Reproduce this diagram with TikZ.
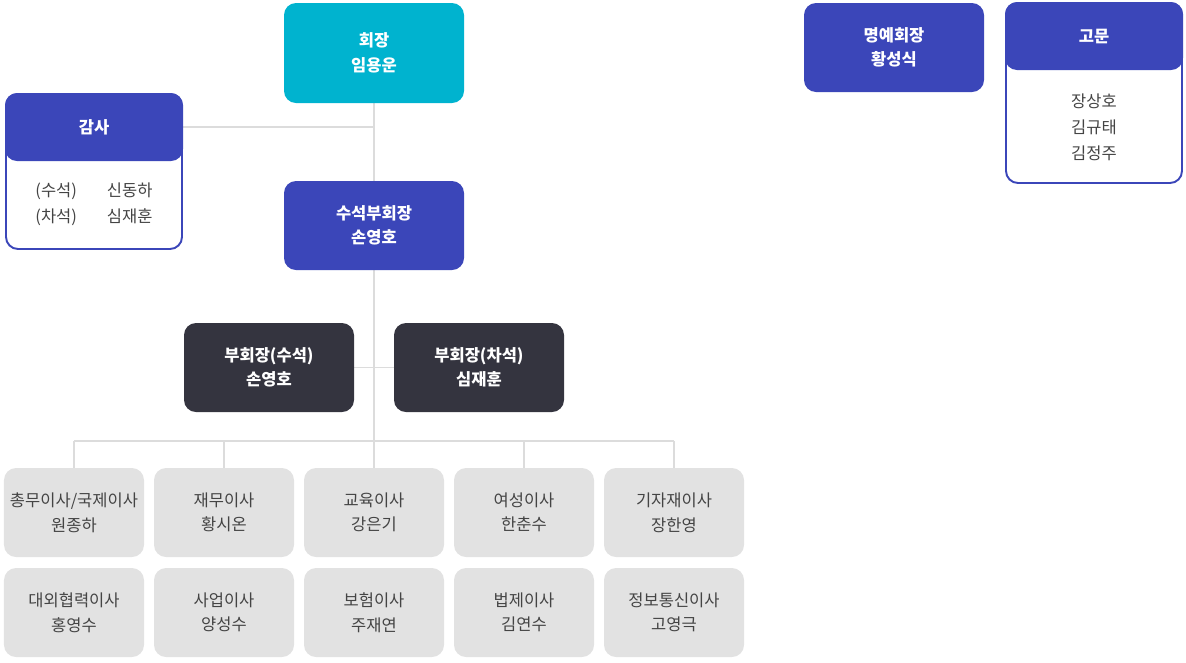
\documentclass[tikz,border=0pt]{standalone}
\usepackage{fontspec}
\setmainfont{Noto Sans CJK KR}
\usepackage{xcolor}
\usepackage{tikz}
\usetikzlibrary{positioning,calc,backgrounds}

\definecolor{chaircyan}{HTML}{00B3CF}
\definecolor{orgblue}{HTML}{3B46B9}
\definecolor{orgdark}{HTML}{34343F}
\definecolor{orggray}{HTML}{E2E2E2}
\definecolor{orgline}{HTML}{DCDCDC}
\definecolor{orgtext}{HTML}{444444}

\begin{document}
\begin{tikzpicture}[node distance=0.0cm,
    every node/.style={font=\fontsize{9.4}{14}\selectfont, align=center, outer sep=0pt},
    topbox/.style={rounded corners=0.24cm, minimum width=3.6cm, minimum height=1.78cm,
        text=white, font=\fontsize{9.4}{14}\selectfont\bfseries},
    vpbox/.style={topbox, fill=orgdark, minimum width=3.4cm},
    dirbox/.style={rounded corners=0.24cm, fill=orggray, text=orgtext,
        minimum width=2.8cm, minimum height=1.78cm},
    framebox/.style={draw=orgblue, line width=1.1pt, rounded corners=0.24cm, minimum width=3.52cm},
    headbox/.style={topbox, fill=orgblue, minimum width=3.56cm, minimum height=1.36cm, anchor=north},
    orglink/.style={draw=orgline, line width=0.6pt}]

  \useasboundingbox (0,0) rectangle (23.72,-13.24);

  %% ─── Chair and senior vice chair ───────────────────────────────────────
  \node[topbox, fill=chaircyan, minimum height=2.0cm] (chair)
      at (7.48,-1.06) {회장\\임용운};

  \node[topbox, fill=orgblue] (vchair)
      at (7.48,-4.51) {수석부회장\\손영호};

  %% ─── Audit box ──────────────────────────────────────────────────────────
  \node[framebox, minimum height=3.10cm] (audbox) at (1.88,-3.43) {};
  \node[headbox] (audhead) at ([yshift=0.02cm]audbox.north) {감사};
  \node[text=orgtext, font=\fontsize{9.4}{14.8}\selectfont] (audnames) at (1.88,-4.08)
      {\begin{tabular}{@{}l@{\hspace{0.6cm}}l@{}}(수석) & 신동하\\(차석) & 심재훈\end{tabular}};

  %% ─── Honorary chair and advisers ────────────────────────────────────────
  \node[topbox, fill=orgblue] (hon)
      at (17.88,-0.95) {명예회장\\황성식};

  \node[framebox, minimum height=3.60cm] (advbox) at (21.88,-1.86) {};
  \node[headbox] (advhead) at ([yshift=0.02cm]advbox.north) {고문};
  \node[text=orgtext, font=\fontsize{9.4}{14.8}\selectfont] (advnames) at (21.88,-2.54)
      {장상호\\김규태\\김정주};

  %% ─── Vice chairs ────────────────────────────────────────────────────────
  \node[vpbox] (vp1) at (5.38,-7.35) {부회장(수석)\\손영호};
  \node[vpbox] (vp2) at (9.58,-7.35) {부회장(차석)\\심재훈};

  %% ─── Directors ──────────────────────────────────────────────────────────
  \node[dirbox] (dir1) at (1.48,-10.25) {총무이사/국제이사\\원종하};
  \node[dirbox, right=0.2cm of dir1] (dir2) {재무이사\\황시온};
  \node[dirbox, right=0.2cm of dir2] (dir3) {교육이사\\강은기};
  \node[dirbox, right=0.2cm of dir3] (dir4) {여성이사\\한춘수};
  \node[dirbox, right=0.2cm of dir4] (dir5) {기자재이사\\장한영};

  \node[dirbox, below=0.22cm of dir1] (dir6) {대외협력이사\\홍영수};
  \node[dirbox, below=0.22cm of dir2] (dir7) {사업이사\\양성수};
  \node[dirbox, below=0.22cm of dir3] (dir8) {보험이사\\주재연};
  \node[dirbox, below=0.22cm of dir4] (dir9) {법제이사\\김연수};
  \node[dirbox, below=0.22cm of dir5] (dir10) {정보통신이사\\고영극};

  \coordinate (bus) at (7.48,-8.82);

  %% ─── Connectors ─────────────────────────────────────────────────────────
  \begin{scope}[on background layer]
    \draw[orglink] (chair.south) -- (bus);
    \draw[orglink] (audhead.east) -- (audhead.east -| chair.south);
    \draw[orglink] (vp1.east) -- (vp2.west);
    \draw[orglink] (dir1.north |- bus) -- (dir5.north |- bus);
    \draw[orglink] (dir1.north |- bus) -- (dir1.north);
    \draw[orglink] (dir2.north |- bus) -- (dir2.north);
    \draw[orglink] (dir3.north |- bus) -- (dir3.north);
    \draw[orglink] (dir4.north |- bus) -- (dir4.north);
    \draw[orglink] (dir5.north |- bus) -- (dir5.north);
  \end{scope}

\end{tikzpicture}
\end{document}
